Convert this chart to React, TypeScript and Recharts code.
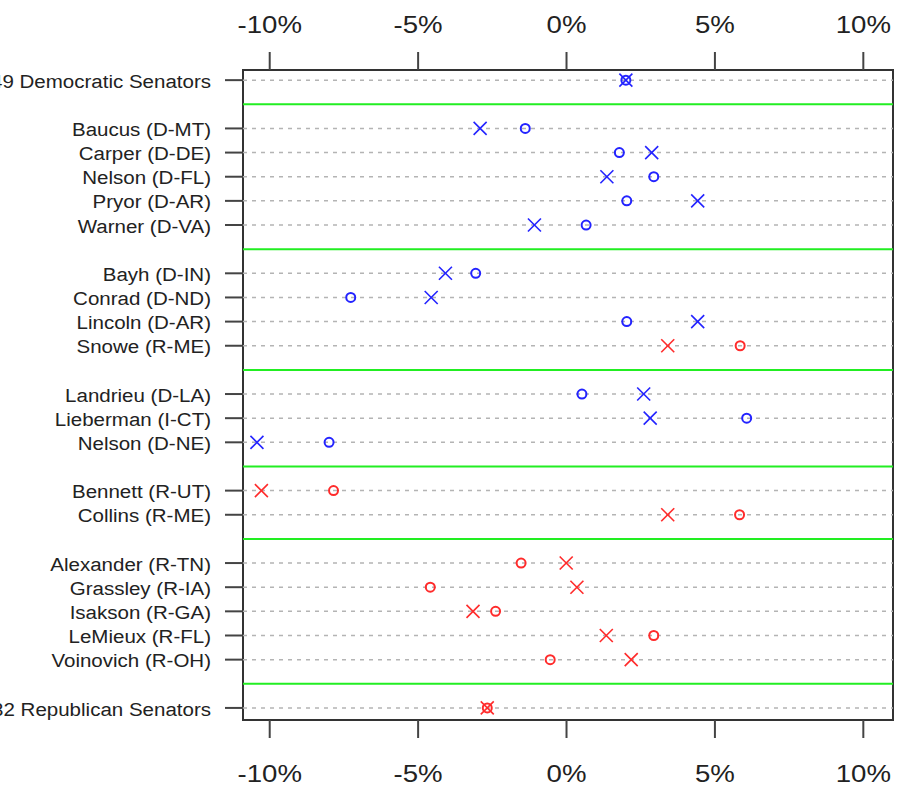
import { ScatterChart, Scatter, XAxis, YAxis, ReferenceLine, ReferenceArea } from "recharts"

// senators, grouped; one blank row between groups
const groups: string[][] = [
  ["49 Democratic Senators"],
  ["Baucus (D-MT)", "Carper (D-DE)", "Nelson (D-FL)", "Pryor (D-AR)", "Warner (D-VA)"],
  ["Bayh (D-IN)", "Conrad (D-ND)", "Lincoln (D-AR)", "Snowe (R-ME)"],
  ["Landrieu (D-LA)", "Lieberman (I-CT)", "Nelson (D-NE)"],
  ["Bennett (R-UT)", "Collins (R-ME)"],
  ["Alexander (R-TN)", "Grassley (R-IA)", "Isakson (R-GA)", "LeMieux (R-FL)", "Voinovich (R-OH)"],
  ["32 Republican Senators"],
]

// "o" marks, in the same order as the names above
const circleValues = [2.0, -1.39, 1.78, 2.94, 2.03, 0.66, -3.06, -7.27, 2.03, 5.85, 0.52, 6.07, -8.0, -7.85, 5.83, -1.53, -4.59, -2.39, 2.94, -0.55, -2.67]
// "x" marks
const crossValues = [2.0, -2.91, 2.87, 1.36, 4.42, -1.08, -4.08, -4.56, 4.42, 3.41, 2.6, 2.82, -10.43, -10.28, 3.41, -0.01, 0.35, -3.15, 1.34, 2.18, -2.67]
const parties = ["D", "D", "D", "D", "D", "D", "D", "D", "D", "R", "D", "I", "D", "R", "R", "R", "R", "R", "R", "R", "R"]

const xTicks = [-10, -5, 0, 5, 10]

const BLUE = "#2323ff"
const RED = "#ff2b2b"
const GREEN = "#22ee22"

const rows: { pos: number; name: string; o: number; x: number; party: string }[] = []
const separators: number[] = []
let pos = 0
let k = 0
groups.forEach((g, gi) => {
  g.forEach((name) => {
    rows.push({ pos, name, o: circleValues[k], x: crossValues[k], party: parties[k] })
    pos++
    k++
  })
  if (gi < groups.length - 1) {
    separators.push(pos)
    pos++
  }
})
const lastPos = pos - 1
const nameAt: Record<number, string> = {}
rows.forEach((r) => (nameAt[r.pos] = r.name))

const colorOf = (p: string) => (p === "R" ? RED : BLUE)

const Circle = (props: any) => {
  const { cx, cy, payload } = props
  return <circle cx={cx} cy={cy} r={4.5} fill="none" stroke={colorOf(payload.party)} strokeWidth={2} />
}

const Cross = (props: any) => {
  const { cx, cy, payload } = props
  const s = 6.5
  const c = colorOf(payload.party)
  return (
    <g stroke={c} strokeWidth={1.6}>
      <line x1={cx - s} y1={cy - s} x2={cx + s} y2={cy + s} />
      <line x1={cx - s} y1={cy + s} x2={cx + s} y2={cy - s} />
    </g>
  )
}

const NameTick = (props: any) => {
  const { x, y, payload } = props
  return (
    <text transform={`translate(${x},${y}) scale(1.08,1)`} dy="0.4em" textAnchor="end" fontSize={19} fill="#222" fontFamily="Liberation Sans, Arial, sans-serif">
      {nameAt[payload.value]}
    </text>
  )
}

const pct = (v: number) => `${v}%`

const TopTick = (props: any) => {
  const { x, y, payload } = props
  return (
    <text transform={`translate(${x},${y}) scale(1.15,1)`} dy={-19} textAnchor="middle" fontSize={24} fill="#222" fontFamily="Liberation Sans, Arial, sans-serif">
      {pct(payload.value)}
    </text>
  )
}

const BottomTick = (props: any) => {
  const { x, y, payload } = props
  return (
    <text transform={`translate(${x},${y}) scale(1.15,1)`} dy={44} textAnchor="middle" fontSize={24} fill="#222" fontFamily="Liberation Sans, Arial, sans-serif">
      {pct(payload.value)}
    </text>
  )
}

const xDomain = [-10.9, 11.0]
const yDomain = [-0.42, lastPos + 0.5]

export default function App() {
  return (
    <div style={{ position: "absolute", left: 0, top: 0, background: "#fff" }}>
      <ScatterChart width={897} height={786} margin={{ top: 20, right: 4, bottom: 6, left: 13 }}>
        <XAxis
          xAxisId={0}
          type="number"
          orientation="bottom"
          dataKey="o"
          domain={xDomain}
          ticks={xTicks}
          allowDataOverflow
          height={60}
          axisLine={false}
          tickSize={18}
          tickMargin={0}
          tickLine={{ stroke: "#444", strokeWidth: 2 }}
          tick={<BottomTick />}
        />
        <XAxis
          xAxisId="top"
          type="number"
          orientation="top"
          dataKey="x"
          domain={xDomain}
          ticks={xTicks}
          allowDataOverflow
          height={50}
          axisLine={false}
          tickSize={18}
          tickMargin={0}
          tickLine={{ stroke: "#444", strokeWidth: 2 }}
          tick={<TopTick />}
        />
        <YAxis
          type="number"
          dataKey="pos"
          domain={yDomain}
          reversed
          allowDataOverflow
          ticks={rows.map((r) => r.pos)}
          interval={0}
          width={230}
          axisLine={false}
          tickSize={18}
          tickMargin={14}
          tickLine={{ stroke: "#444", strokeWidth: 2 }}
          tick={<NameTick />}
        />
        {rows.map((r) => (
          <ReferenceLine key={"g" + r.pos} y={r.pos} stroke="#b4b4b4" strokeWidth={1.5} strokeDasharray="4 5" />
        ))}
        {separators.map((s) => (
          <ReferenceLine key={"s" + s} y={s} stroke={GREEN} strokeWidth={2} />
        ))}
        <ReferenceArea x1={xDomain[0]} x2={xDomain[1]} y1={yDomain[0]} y2={yDomain[1]} fill="none" stroke="#333" strokeWidth={2} ifOverflow="visible" />
        <Scatter data={rows} dataKey="o" xAxisId={0} shape={<Circle />} isAnimationActive={false} />
        <Scatter data={rows} dataKey="x" xAxisId="top" shape={<Cross />} isAnimationActive={false} />
      </ScatterChart>
    </div>
  )
}
